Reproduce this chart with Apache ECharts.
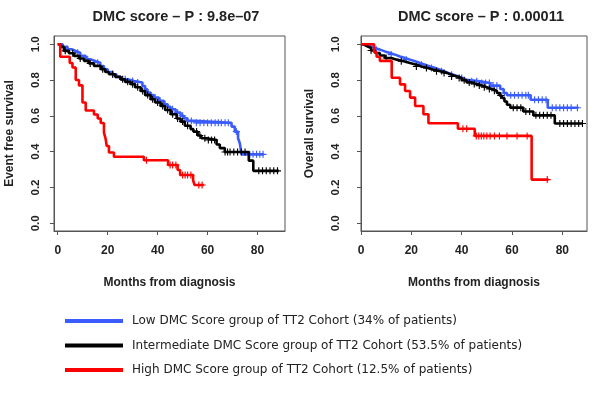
<!DOCTYPE html>
<html><head><meta charset="utf-8">
<script src="https://cdn.jsdelivr.net/npm/echarts@6/dist/echarts.min.js"></script>
<style>html,body{margin:0;padding:0;background:#fff}#c{width:600px;height:395px}</style>
</head><body><div id="c"></div>
<script>
// ---- Data ----
var groupNames = [
  'Low DMC Score group of TT2 Cohort (34% of patients)',
  'Intermediate DMC Score group of TT2 Cohort (53.5% of patients)',
  'High DMC Score group of TT2 Cohort (12.5% of patients)'
];
var panelTitles = ['DMC score \u2013 P : 9.8e\u201307', 'DMC score \u2013 P : 0.00011'];
var yAxisTitles = ['Event free survival', 'Overall survival'];
var xAxisTitle = 'Months from diagnosis';
var xTicks = [0, 20, 40, 60, 80];
var yTicks = [0, 0.2, 0.4, 0.6, 0.8, 1.0];

// Event free survival (left panel): [month, survival after step]
var efsLow = [[0,1],[2,0.985],[3.9,0.972],[5.5,0.962],[7.2,0.953],[9,0.935],[11.2,0.916],[13,0.905],[15.2,0.897],[17,0.878],[18.5,0.86],[20,0.845],[21.9,0.832],[23.5,0.818],[25.2,0.804],[28,0.795],[30.5,0.786],[33.9,0.767],[35,0.748],[35.9,0.73],[37.2,0.716],[38.5,0.702],[40.5,0.684],[42.5,0.665],[44,0.65],[45.2,0.637],[47.2,0.618],[49.2,0.6],[50.5,0.586],[51.9,0.572],[54.5,0.561],[69.6,0.54],[70.9,0.512],[72.2,0.475],[72.9,0.447],[73.6,0.385],[82.5,0.385]];
var efsInter = [[0,1],[1,0.985],[2.5,0.963],[4.5,0.95],[6.5,0.935],[8.5,0.92],[10.5,0.907],[12.5,0.893],[14.5,0.879],[17.2,0.86],[19,0.845],[20.5,0.832],[23,0.818],[25.2,0.804],[27,0.79],[29.2,0.777],[31,0.76],[33.2,0.739],[35,0.716],[37.2,0.693],[39,0.675],[41.2,0.655],[43,0.633],[45.2,0.609],[47.6,0.585],[49.2,0.568],[50.9,0.545],[53.2,0.526],[54.3,0.512],[56,0.49],[57.5,0.475],[59.6,0.465],[63.6,0.44],[64.9,0.42],[66.9,0.398],[76.5,0.35],[78.3,0.293],[88.5,0.293]];
var efsHigh = [[0,1],[1,0.93],[4.8,0.895],[5.9,0.87],[7.2,0.80],[8.5,0.77],[9.9,0.675],[11.2,0.63],[14.5,0.608],[16,0.585],[17.2,0.56],[18.5,0.506],[19.2,0.47],[19.6,0.432],[20.5,0.395],[22.5,0.372],[34.5,0.352],[44.2,0.326],[48,0.298],[49,0.27],[54.2,0.24],[54.8,0.214],[58.5,0.214]];
// Overall survival (right panel)
var osLow = [[0,1],[1.5,0.99],[3.6,0.979],[5.5,0.97],[7.5,0.96],[9.5,0.951],[11.5,0.942],[13.5,0.932],[15.5,0.923],[17.5,0.914],[19.5,0.905],[21.5,0.895],[23.4,0.886],[25.5,0.876],[27.4,0.867],[29.5,0.858],[31.4,0.849],[33,0.84],[34.7,0.83],[36.7,0.82],[38.7,0.811],[40.3,0.802],[42,0.793],[47.3,0.784],[51.3,0.769],[55.3,0.75],[56.7,0.728],[58,0.715],[67.4,0.69],[74.2,0.645],[86.4,0.645]];
var osInter = [[0,1],[1,0.99],[2.3,0.979],[4,0.965],[5.6,0.951],[7.5,0.937],[9.5,0.923],[12,0.914],[14.2,0.905],[17,0.895],[19.5,0.886],[22,0.876],[24.1,0.867],[26.5,0.858],[28.8,0.849],[31.5,0.84],[34.1,0.83],[36,0.82],[38.1,0.811],[40,0.799],[42,0.787],[44,0.778],[46,0.769],[48,0.76],[50,0.75],[52,0.74],[54,0.728],[55,0.714],[56,0.7],[57,0.68],[58,0.662],[59.3,0.646],[64.5,0.624],[68.5,0.603],[77,0.557],[88,0.557]];
var osHigh = [[0,1],[5.2,0.955],[6.2,0.93],[7.5,0.907],[12.2,0.813],[15.5,0.776],[17.5,0.739],[19.5,0.702],[21.5,0.655],[24.8,0.609],[26.8,0.559],[38.5,0.528],[45.2,0.488],[67.8,0.244],[74.5,0.244]];

// Censoring times (months)
var efsLowCens = [4,8,12,16,22,27,30,32,36,39,41,43,46,48,50,52,53.5,55.5,57,58.5,60,61.5,63,64.3,65.5,67,68.3,71.5,76.9,78.2,79.6,80.9,82.2];
var efsInterCens = [3,6,9,13,18,22,26,28,30,32,34,36,38,40,42,44,46,48,50,52,55.6,56.9,58.9,60.3,61.6,62.8,67,68,69,70.5,72,73.5,75,80.5,82,83.5,85,86.5,88];
var efsHighCens = [35.5,45,46,47.3,50,51,52,53.3,56.5,57.8];
var osLowCens = [6,12,18,24,28,32,36,40,44,46,48,49.5,51,52.5,54,57,59.5,61,62.5,64,65.5,66.5,69,70.5,72,73.5,76,77.5,79,80.5,82,83.5,86];
var osInterCens = [4,10,16,22,26,30,33,36,39,41,43,45,47,49,51,53,55.5,60.5,62,63.5,65.5,67,69.5,71,72.5,74,75.5,79,80.5,82,83.5,85,86.5,88];
var osHighCens = [40.5,42,45.8,46.8,47.8,48.8,50,51.3,53,55,58,62,66,74];

// ---- Chart ----
var colors = ['#3a5cff', '#000000', '#ff0000'];
var curves = [[efsLow, efsInter, efsHigh], [osLow, osInter, osHigh]];
var censors = [[efsLowCens, efsInterCens, efsHighCens], [osLowCens, osInterCens, osHighCens]];
function survAt(curve, t) {
  var s = curve[0][1];
  for (var i = 0; i < curve.length; i++) { if (curve[i][0] <= t) s = curve[i][1]; }
  return s;
}
var plus = 'path://M0,4.2H10V5.8H0Z M4.2,0H5.8V10H4.2Z';
var font = 'Liberation Sans';
var grids = [
  {left: 54, top: 36, width: 231, height: 195, show: true, borderColor: '#555', borderWidth: 1},
  {left: 361, top: 36, width: 226, height: 195, show: true, borderColor: '#555', borderWidth: 1}
];
var xRanges = [[-1.5, 91], [0, 89.8]];
var yNameGaps = [38, 45];
var yLabelMargins = [12, 19];
var xAxes = [], yAxes = [], series = [];
for (var p = 0; p < 2; p++) {
  xAxes.push({
    type: 'value', gridIndex: p, min: xRanges[p][0], max: xRanges[p][1],
    name: xAxisTitle, nameLocation: 'middle', nameGap: 46,
    nameTextStyle: {fontFamily: font, fontWeight: 'bold', fontSize: 12, color: '#222'},
    axisLine: {show: true, onZero: false, lineStyle: {color: '#555'}},
    axisTick: {show: true, length: 4, customValues: xTicks, lineStyle: {color: '#555'}},
    axisLabel: {customValues: xTicks, margin: 14, fontFamily: font, fontWeight: 'bold', fontSize: 12, color: '#222'},
    splitLine: {show: false}
  });
  yAxes.push({
    type: 'value', gridIndex: p, min: -0.043, max: 1.046,
    name: yAxisTitles[p], nameLocation: 'middle', nameGap: yNameGaps[p],
    nameTextStyle: {fontFamily: font, fontWeight: 'bold', fontSize: 12, color: '#222'},
    axisLine: {show: true, onZero: false, lineStyle: {color: '#555'}},
    axisTick: {show: true, length: 4, customValues: yTicks, lineStyle: {color: '#555'}},
    axisLabel: {customValues: yTicks, rotate: 90, margin: yLabelMargins[p], fontFamily: font, fontWeight: 'bold', fontSize: 11.5, color: '#222',
      formatter: function (v) { return v.toFixed(1); }},
    splitLine: {show: false}
  });
  for (var g = 0; g < 3; g++) {
    series.push({
      type: 'line', name: groupNames[g], xAxisIndex: p, yAxisIndex: p,
      data: curves[p][g], step: 'end', showSymbol: false, symbol: 'none',
      color: colors[g], lineStyle: {width: 2.6, color: colors[g]}, itemStyle: {color: colors[g]},
      z: 2 + g, silent: true
    });
    series.push({
      type: 'scatter', name: groupNames[g], xAxisIndex: p, yAxisIndex: p,
      data: censors[p][g].map(function (t) { return [t, survAt(curves[p][g], t)]; }),
      symbol: plus, symbolSize: 7, color: colors[g], itemStyle: {color: colors[g], opacity: 1},
      z: 2 + g, silent: true
    });
  }
}
var chart = echarts.init(document.getElementById('c'), null, {renderer: 'canvas'});
chart.setOption({
  animation: false,
  backgroundColor: '#fff',
  title: [
    {text: panelTitles[0], left: 171, top: 4, textAlign: 'center', textStyle: {fontFamily: font, fontWeight: 'bold', fontSize: 14.5, color: '#222'}},
    {text: panelTitles[1], left: 476, top: 4, textAlign: 'center', textStyle: {fontFamily: font, fontWeight: 'bold', fontSize: 14.5, color: '#222'}}
  ],
  legend: {
    data: groupNames.map(function (n, i) { return {name: n, icon: 'rect', itemStyle: {color: colors[i]}}; }),
    orient: 'vertical', left: 60, top: 309, itemWidth: 58, itemHeight: 4, itemGap: 10.5,
    selectedMode: false,
    textStyle: {fontFamily: 'DejaVu Sans', fontSize: 12, color: '#222', lineHeight: 14, padding: [0, 0, 0, 4]}
  },
  grid: grids,
  xAxis: xAxes,
  yAxis: yAxes,
  series: series
});
</script></body></html>
